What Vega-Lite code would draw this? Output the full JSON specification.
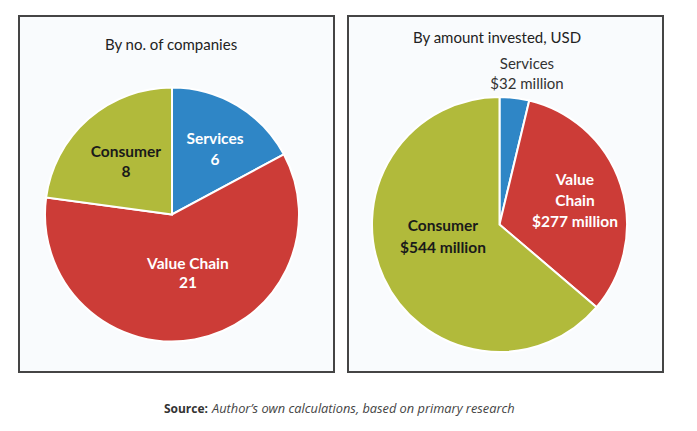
{
  "$schema": "https://vega.github.io/schema/vega-lite/v6.json",
  "background": "white",
  "padding": {"left": 18, "top": 15, "right": 0, "bottom": 0},
  "config": {"font": "Lato", "text": {"font": "Lato"}},
  "datasets": {
    "companies": [
      {"cat": "Services", "value": 6, "ord": 1, "label": "Services\n6"},
      {"cat": "Value Chain", "value": 21, "ord": 2, "label": "Value Chain\n21"},
      {"cat": "Consumer", "value": 8, "ord": 3, "label": "Consumer\n8"}
    ],
    "invested": [
      {"cat": "Services", "value": 32, "ord": 1, "label": "Services\n$32 million"},
      {"cat": "Value Chain", "value": 277, "ord": 2, "label": "Value\nChain\n$277 million"},
      {"cat": "Consumer", "value": 544, "ord": 3, "label": "Consumer\n$544 million"}
    ],
    "titles": [
      {"panel": "left", "title": "By no. of companies"},
      {"panel": "right", "title": "By amount invested, USD"}
    ],
    "source": [
      {"head": "Source:", "body": "Author’s own calculations, based on primary research"}
    ]
  },
  "vconcat": [
    {
      "hconcat": [
        {
          "width": 315,
          "height": 356,
          "view": {"fill": "#f9fbfd", "stroke": "#454545", "strokeWidth": 2},
          "layer": [
            {
              "data": {"name": "companies"},
              "mark": {"type": "arc", "outerRadius": 127, "stroke": "white", "strokeWidth": 2, "xOffset": -4.5, "yOffset": 20.5},
              "encoding": {
                "theta": {"field": "value", "type": "quantitative", "stack": true},
                "order": {"field": "ord", "type": "quantitative"},
                "color": {"field": "cat", "type": "nominal", "legend": null,
                  "scale": {"domain": ["Services", "Value Chain", "Consumer"], "range": ["#2f86c6", "#cc3c37", "#b1ba3b"]}}
              }
            },
            {
              "data": {"name": "companies"},
              "mark": {"type": "text", "radius": 77, "lineBreak": "\n", "lineHeight": 21, "fontSize": 15.5, "fontWeight": "bold", "color": "white", "xOffset": -1, "yOffset": 11.5},
              "encoding": {
                "theta": {"field": "value", "type": "quantitative", "stack": true},
                "order": {"field": "ord", "type": "quantitative"},
                "text": {"condition": {"test": "datum.cat === 'Services'", "field": "label", "type": "nominal"}, "value": ""}
              }
            },
            {
              "data": {"name": "companies"},
              "mark": {"type": "text", "radius": 61, "lineBreak": "\n", "lineHeight": 19, "fontSize": 15.5, "fontWeight": "bold", "color": "white", "xOffset": 0.5, "yOffset": 10},
              "encoding": {
                "theta": {"field": "value", "type": "quantitative", "stack": true},
                "order": {"field": "ord", "type": "quantitative"},
                "text": {"condition": {"test": "datum.cat === 'Value Chain'", "field": "label", "type": "nominal"}, "value": ""}
              }
            },
            {
              "data": {"name": "companies"},
              "mark": {"type": "text", "radius": 70, "lineBreak": "\n", "lineHeight": 20, "fontSize": 15.5, "fontWeight": "bold", "color": "#1a1a1a", "xOffset": -4.5, "yOffset": 10.5},
              "encoding": {
                "theta": {"field": "value", "type": "quantitative", "stack": true},
                "order": {"field": "ord", "type": "quantitative"},
                "text": {"condition": {"test": "datum.cat === 'Consumer'", "field": "label", "type": "nominal"}, "value": ""}
              }
            },
            {
              "data": {"name": "titles"},
              "transform": [{"filter": "datum.panel === 'left'"}],
              "mark": {"type": "text", "fontSize": 15, "color": "#222222", "xOffset": -5.5, "yOffset": -149},
              "encoding": {"text": {"field": "title", "type": "nominal"}}
            }
          ]
        },
        {
          "width": 315,
          "height": 356,
          "view": {"fill": "#f9fbfd", "stroke": "#454545", "strokeWidth": 2},
          "layer": [
            {
              "data": {"name": "invested"},
              "mark": {"type": "arc", "outerRadius": 127.5, "stroke": "white", "strokeWidth": 2, "xOffset": -6, "yOffset": 30.5},
              "encoding": {
                "theta": {"field": "value", "type": "quantitative", "stack": true},
                "order": {"field": "ord", "type": "quantitative"},
                "color": {"field": "cat", "type": "nominal", "legend": null,
                  "scale": {"domain": ["Services", "Value Chain", "Consumer"], "range": ["#2f86c6", "#cc3c37", "#b1ba3b"]}}
              }
            },
            {
              "data": {"name": "invested"},
              "mark": {"type": "text", "radius": 152, "lineBreak": "\n", "lineHeight": 20, "fontSize": 15, "fontWeight": "normal", "color": "#333333", "xOffset": 3.6, "yOffset": 20.5},
              "encoding": {
                "theta": {"field": "value", "type": "quantitative", "stack": true},
                "order": {"field": "ord", "type": "quantitative"},
                "text": {"condition": {"test": "datum.cat === 'Services'", "field": "label", "type": "nominal"}, "value": ""}
              }
            },
            {
              "data": {"name": "invested"},
              "mark": {"type": "text", "radius": 79, "lineBreak": "\n", "lineHeight": 21, "fontSize": 15.5, "fontWeight": "bold", "color": "white", "xOffset": -5.7, "yOffset": 10.5},
              "encoding": {
                "theta": {"field": "value", "type": "quantitative", "stack": true},
                "order": {"field": "ord", "type": "quantitative"},
                "text": {"condition": {"test": "datum.cat === 'Value Chain'", "field": "label", "type": "nominal"}, "value": ""}
              }
            },
            {
              "data": {"name": "invested"},
              "mark": {"type": "text", "radius": 58, "lineBreak": "\n", "lineHeight": 22, "fontSize": 15.5, "fontWeight": "bold", "color": "#1a1a1a", "xOffset": -9.9, "yOffset": 7.7},
              "encoding": {
                "theta": {"field": "value", "type": "quantitative", "stack": true},
                "order": {"field": "ord", "type": "quantitative"},
                "text": {"condition": {"test": "datum.cat === 'Consumer'", "field": "label", "type": "nominal"}, "value": ""}
              }
            },
            {
              "data": {"name": "titles"},
              "transform": [{"filter": "datum.panel === 'right'"}],
              "mark": {"type": "text", "fontSize": 15, "color": "#222222", "xOffset": -8.5, "yOffset": -156},
              "encoding": {"text": {"field": "title", "type": "nominal"}}
            }
          ]
        }
      ],
      "spacing": 14,
      "bounds": "flush"
    },
    {
      "width": 644,
      "height": 20,
      "view": {"stroke": null, "fill": null},
      "data": {"name": "source"},
      "layer": [
        {
          "mark": {"type": "text", "font": "Open Sans", "fontSize": 12, "fontWeight": "bold", "color": "#333333", "align": "right", "xOffset": -133},
          "encoding": {"text": {"field": "head", "type": "nominal"}}
        },
        {
          "mark": {"type": "text", "font": "Open Sans", "fontSize": 12.8, "fontStyle": "italic", "color": "#444444", "align": "left", "xOffset": -129},
          "encoding": {"text": {"field": "body", "type": "nominal"}}
        }
      ]
    }
  ],
  "spacing": 26
}
